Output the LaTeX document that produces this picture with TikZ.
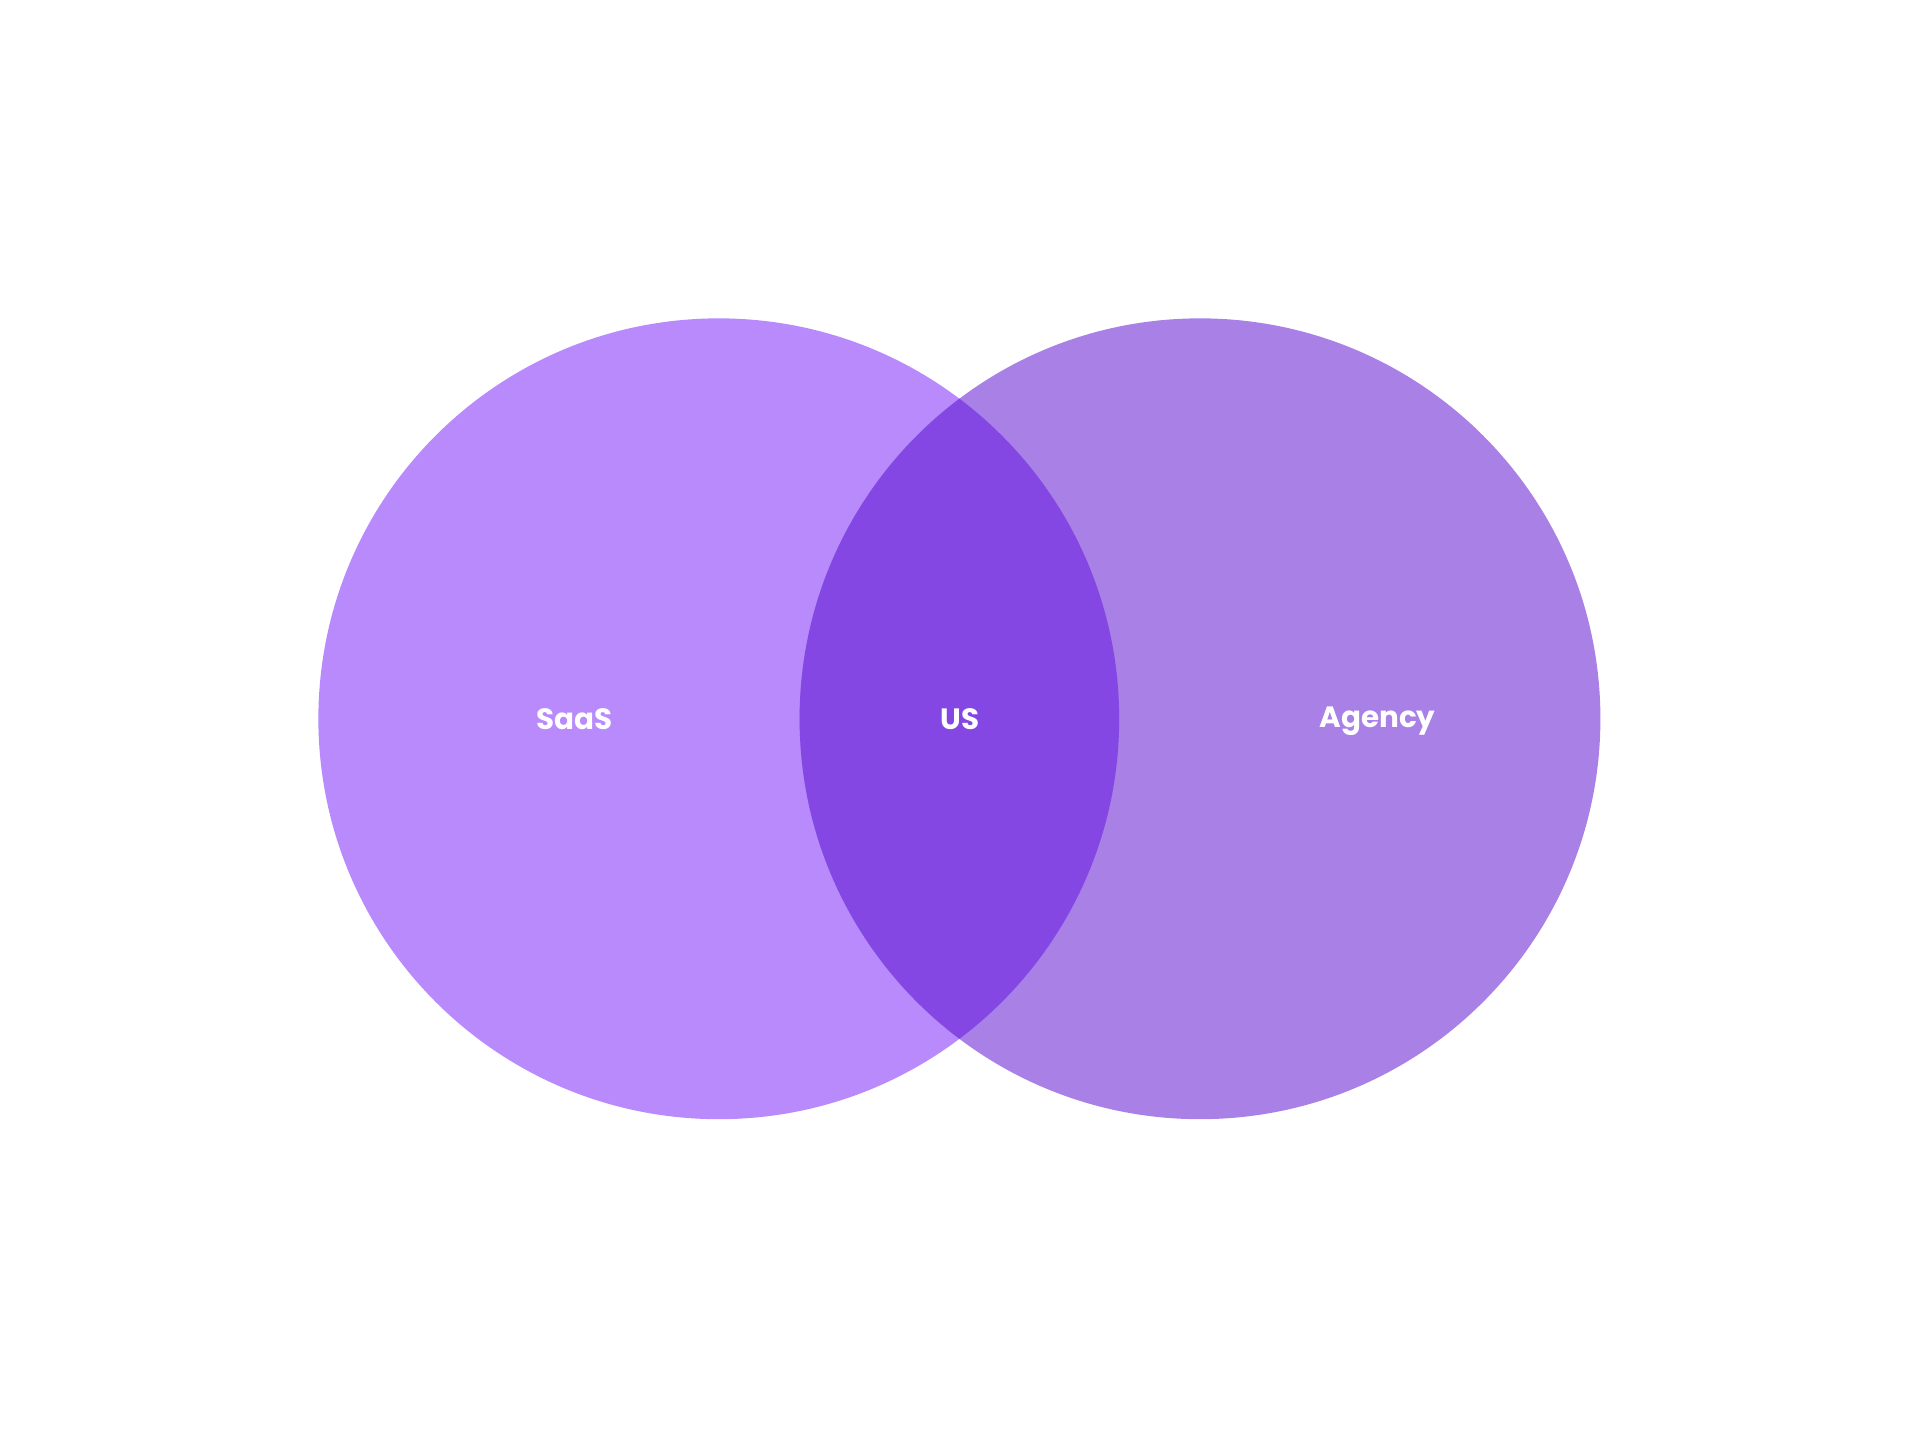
\documentclass[tikz,border=0pt]{standalone}
\usepackage{fontspec}
\setmainfont{Poppins}
\newlength{\du}
\setlength{\du}{0.5pt}
\definecolor{saascolor}{rgb}{0.722, 0.541, 0.988}
\definecolor{agencycolor}{rgb}{0.659, 0.502, 0.902}
\definecolor{uscolor}{rgb}{0.518, 0.278, 0.894}
\tikzset{label/.style={text=white,font=\fontsize{12}{14}\selectfont\bfseries}}
\begin{document}
\begin{tikzpicture}
\pgftransformxscale{1.000000}
\pgftransformyscale{-1.000000}
\useasboundingbox (0\du,0\du) rectangle (1568\du,1176\du);
\fill[white] (0\du,0\du) rectangle (1568\du,1176\du);
% left set
\fill[saascolor] (587\du,587\du) circle (327\du);
% right set
\fill[agencycolor] (980\du,587\du) circle (327\du);
% overlap
\begin{scope}
\clip (587\du,587\du) circle (327\du);
\fill[uscolor] (980\du,587\du) circle (327\du);
\end{scope}
\node[label] (saas) at (469\du,587\du){SaaS};
\node[label] (us) at (784\du,587\du){US};
\node[label] (agency) at (1125\du,589\du){Agency};
\end{tikzpicture}
\end{document}
